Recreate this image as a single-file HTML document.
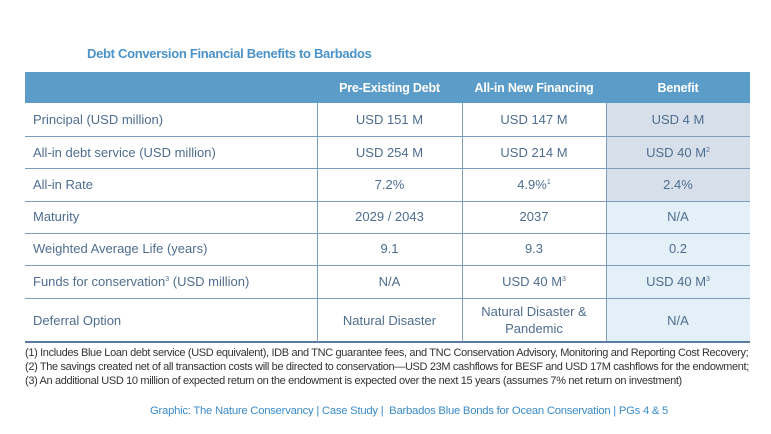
<!DOCTYPE html>
<html><head><meta charset="utf-8"><style>
body{margin:0;width:771px;height:434px;background:#fff;position:relative;overflow:hidden;font-family:"Liberation Sans",sans-serif}
.a{position:absolute}
.t{left:87px;top:46px;font-size:13px;font-weight:bold;color:#4a92c8;letter-spacing:-0.3px}
.hdr{left:25px;top:72px;width:725px;height:31px;background:#5b9cc8}
.h{position:absolute;top:72px;height:31px;line-height:33px;color:#fff;font-weight:bold;font-size:12.5px;text-align:center;letter-spacing:-0.2px}
.hl{position:absolute;left:25px;width:725px;height:1px;background:#7d9dbf}
.vl{position:absolute;top:103px;height:239px;width:1px;background:#7d9dbf}
.c{position:absolute;font-size:13px;color:#4f6d8f;text-align:center;line-height:32px}
.lab{position:absolute;left:33px;font-size:13px;color:#4f6d8f;line-height:32px}
sup{font-size:7px;vertical-align:5px;line-height:0}
.fn{position:absolute;left:25px;font-size:11px;color:#333;white-space:nowrap;letter-spacing:-0.35px;font-family:"Liberation Sans Narrow","Liberation Sans",sans-serif}
</style></head><body>
<div class="a t">Debt Conversion Financial Benefits to Barbados</div>
<div class="a hdr"></div>
<div class="a" style="left:606px;top:103px;width:144px;height:98px;background:#d7e0ea"></div>
<div class="a" style="left:606px;top:201px;width:144px;height:141px;background:#e4f0f8"></div>
<div class="h" style="left:317px;width:145px">Pre-Existing Debt</div>
<div class="h" style="left:462px;width:144px">All-in New Financing</div>
<div class="h" style="left:606px;width:144px">Benefit</div>
<div class="hl" style="top:136px"></div>
<div class="hl" style="top:168px"></div>
<div class="hl" style="top:201px"></div>
<div class="hl" style="top:233px"></div>
<div class="hl" style="top:265px"></div>
<div class="hl" style="top:298px"></div>
<div class="hl" style="top:341px;height:2px;background:#5a7aa0"></div>
<div class="vl" style="left:317px"></div>
<div class="vl" style="left:462px"></div>
<div class="vl" style="left:606px"></div>

<div class="lab" style="top:104px">Principal (USD million)</div>
<div class="c" style="left:317px;width:145px;top:104px">USD 151 M</div>
<div class="c" style="left:462px;width:144px;top:104px">USD 147 M</div>
<div class="c" style="left:606px;width:144px;top:104px">USD 4 M</div>

<div class="lab" style="top:137px">All-in debt service (USD million)</div>
<div class="c" style="left:317px;width:145px;top:137px">USD 254 M</div>
<div class="c" style="left:462px;width:144px;top:137px">USD 214 M</div>
<div class="c" style="left:606px;width:144px;top:137px">USD 40 M<sup>2</sup></div>

<div class="lab" style="top:169px">All-in Rate</div>
<div class="c" style="left:317px;width:145px;top:169px">7.2%</div>
<div class="c" style="left:462px;width:144px;top:169px">4.9%<sup>1</sup></div>
<div class="c" style="left:606px;width:144px;top:169px">2.4%</div>

<div class="lab" style="top:201px">Maturity</div>
<div class="c" style="left:317px;width:145px;top:201px">2029 / 2043</div>
<div class="c" style="left:462px;width:144px;top:201px">2037</div>
<div class="c" style="left:606px;width:144px;top:201px">N/A</div>

<div class="lab" style="top:233px">Weighted Average Life (years)</div>
<div class="c" style="left:317px;width:145px;top:233px">9.1</div>
<div class="c" style="left:462px;width:144px;top:233px">9.3</div>
<div class="c" style="left:606px;width:144px;top:233px">0.2</div>

<div class="lab" style="top:266px">Funds for conservation<sup>3</sup> (USD million)</div>
<div class="c" style="left:317px;width:145px;top:266px">N/A</div>
<div class="c" style="left:462px;width:144px;top:266px">USD 40 M<sup>3</sup></div>
<div class="c" style="left:606px;width:144px;top:266px">USD 40 M<sup>3</sup></div>

<div class="lab" style="top:305px">Deferral Option</div>
<div class="c" style="left:317px;width:145px;top:305px">Natural Disaster</div>
<div class="c" style="left:462px;width:144px;top:303px;line-height:17px">Natural Disaster &amp;<br>Pandemic</div>
<div class="c" style="left:606px;width:144px;top:305px">N/A</div>

<div class="fn" style="top:347px">(1) Includes Blue Loan debt service (USD equivalent), IDB and TNC guarantee fees, and TNC Conservation Advisory, Monitoring and Reporting Cost Recovery;</div>
<div class="fn" style="top:361px">(2) The savings created net of all transaction costs will be directed to conservation—USD 23M cashflows for BESF and USD 17M cashflows for the endowment;</div>
<div class="fn" style="top:375px">(3) An additional USD 10 million of expected return on the endowment is expected over the next 15 years (assumes 7% net return on investment)</div>
<div class="a" style="left:150px;top:405px;font-size:11.3px;color:#3b8cc8;white-space:nowrap;letter-spacing:-0.25px">Graphic: The Nature Conservancy | Case Study |&nbsp; Barbados Blue Bonds for Ocean Conservation | PGs 4 &amp; 5</div>
</body></html>
